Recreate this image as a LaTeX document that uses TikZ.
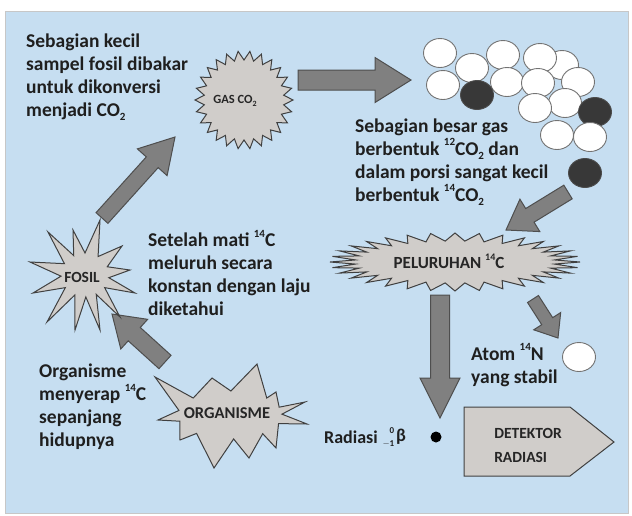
\documentclass[tikz,border=0pt]{standalone}
\usepackage{fontspec}
\setmainfont{Carlito}
\usetikzlibrary{calc,shapes.geometric}
\definecolor{bgblue}{RGB}{198,222,241}
\definecolor{burstfill}{RGB}{208,205,202}
\definecolor{arrfill}{RGB}{128,128,128}
\definecolor{arrline}{RGB}{78,78,78}
\newcommand\ssup[1]{\raisebox{0.5em}{\fontsize{11}{11}\selectfont #1}}
\newcommand\ssub[1]{\raisebox{-0.22em}{\fontsize{11}{11}\selectfont #1}}
\tikzset{
  burst/.style={fill=burstfill, draw=black!75, line width=1pt, line join=miter},
  barrow/.style={fill=arrfill, draw=arrline, line width=1pt, line join=miter},
  body/.style={font=\fontsize{19.5}{23}\selectfont\bfseries, align=left, inner sep=0pt, anchor=west, text=black!88},
  nuc/.style={font=\fontsize{9}{9}\selectfont\bfseries, inner sep=0pt, anchor=east, text=black!88},
  lbl/.style={inner sep=0pt, text=black!85},
  mol/.style={shape=ellipse, minimum width=33pt, minimum height=29pt, inner sep=0pt, fill=white, draw=black!55, line width=0.9pt},
  dmol/.style={mol, fill=black!78, draw=black!70}
}
\newcommand\blockarrow[5]{%
  \coordinate (bah) at ($(#2)!#5!(#1)$);
  \draw[barrow] ($(#1)!#3!90:(#2)$) -- ($(bah)!#3!-90:(#1)$) -- ($(bah)!#4!-90:(#1)$) -- (#2)
    -- ($(bah)!#4!90:(#1)$) -- ($(bah)!#3!90:(#1)$) -- ($(#1)!#3!-90:(#2)$) -- cycle;}
\begin{document}
\begin{tikzpicture}[x=1pt,y=-1pt]
\useasboundingbox (0,0) rectangle (632,515);
\fill[white] (0,0) rectangle (632,515);
\draw[draw=black!22, fill=bgblue, line width=0.8pt] (5,11) rectangle (628,513);

% arrow end points
\coordinate (a1s) at (298,80);  \coordinate (a1e) at (411,80);
\coordinate (a2s) at (102,218); \coordinate (a2e) at (175,137);
\coordinate (a3s) at (165,362); \coordinate (a3e) at (112,314);
\coordinate (a4s) at (568,192); \coordinate (a4e) at (506,230);
\coordinate (a5s) at (533,299); \coordinate (a5e) at (558,338);
\coordinate (a6s) at (440,295); \coordinate (a6e) at (440,418);

\blockarrow{a1s}{a1e}{10pt}{22.5pt}{36pt}
\blockarrow{a2s}{a2e}{8pt}{20pt}{34pt}
\blockarrow{a3s}{a3e}{9pt}{20pt}{30pt}
\blockarrow{a4s}{a4e}{8pt}{19pt}{28pt}
\blockarrow{a5s}{a5e}{6.5pt}{16pt}{20pt}
\blockarrow{a6s}{a6e}{9.5pt}{20pt}{40pt}

% GAS CO2 burst
\coordinate (gasc) at (244,100);
\draw[burst, shift={(gasc)}] (0:49 and 49) foreach \i in {0,...,25} { -- ({(\i+0.5)*360/26}:40 and 40) -- ({(\i+1)*360/26}:49 and 49)} -- cycle;
\node[lbl, font=\fontsize{12.5}{14}\selectfont\bfseries] (gas) at (235,101) {GAS CO\raisebox{-0.2em}{\fontsize{8}{8}\selectfont 2}};

% PELURUHAN burst
\coordinate (pelc) at (455,262);
\draw[burst, shift={(pelc)}] (0:125 and 29) foreach \i in {0,...,31} { -- ({(\i+0.5)*360/32}:100 and 21) -- ({(\i+1)*360/32}:125 and 29)} -- cycle;
\node[lbl, font=\fontsize{17}{19}\selectfont\bfseries] (pel) at (449,261) {PELURUHAN \raisebox{0.45em}{\fontsize{10}{10}\selectfont 14}C};

% FOSIL burst
\coordinate (fosc) at (85,275);
\draw[burst, shift={(fosc)}] (50,18) -- (35:24 and 22) -- (35,42) -- (62:24 and 22) -- (15,55) -- (88:24 and 22)
  -- (-10,55) -- (115:24 and 22) -- (-38,47) -- (145:24 and 22) -- (-52,18) -- (177:24 and 22)
  -- (-55,-13) -- (211:24 and 22) -- (-37,-43) -- (242:24 and 22) -- (-12,-45) -- (270:24 and 22)
  -- (15,-55) -- (303:24 and 22) -- (37,-29) -- (338:24 and 22) -- (45,-5) -- (7:24 and 22) -- cycle;
\node[lbl, font=\fontsize{15.5}{17}\selectfont\bfseries] (fosil) at (82,277) {FOSIL};

% ORGANISME burst
\coordinate (orgc) at (230,415);
\draw[burst, shift={(orgc)}] (77,9) -- (21:52 and 24) -- (46,33) -- (51:52 and 24) -- (19,43) -- (86:52 and 24)
  -- (-16,53) -- (130:52 and 24) -- (-50,25) -- (165:52 and 24) -- (-72,5) -- (191:52 and 24)
  -- (-75,-38) -- (225:52 and 24) -- (-18,-37) -- (271:52 and 24) -- (27,-51) -- (315:52 and 24)
  -- (46,-23) -- (341:52 and 24) -- (75,-13) -- (358:52 and 24) -- cycle;
\node[lbl, font=\fontsize{16.5}{18}\selectfont\bfseries] (org) at (227,413) {ORGANISME};

% detector
\draw[burst] (464,407) -- (570,407) -- (614,442) -- (570,476) -- (464,476) -- cycle;
\node[lbl, font=\fontsize{15.5}{24}\selectfont\bfseries, align=left] (det) at (528,445) {DETEKTOR\\RADIASI};

% gas molecules
\node[mol] (m5) at (562,65) {};
\node[mol] (m1) at (440,53) {};
\node[mol] (m3) at (503,55) {};
\node[mol] (m4) at (540,58) {};
\node[mol] (m2) at (472,68) {};
\node[mol] (m6) at (443,85) {};
\node[mol] (m8) at (507,82) {};
\node[mol] (m9) at (538,83) {};
\node[mol] (m10) at (578,82) {};
\node[dmol] (m7) at (477,95) {};
\node[mol] (m12) at (565,103) {};
\node[mol] (m11) at (535,108) {};
\node[dmol] (m13) at (595,112) {};
\node[mol] (m15) at (590,137) {};
\node[mol] (m14) at (557,135) {};
\node[dmol] (m16) at (585,173) {};

% nitrogen atom and beta particle
\node[mol] (n14) at (579,357) {};
\node[circle, fill=black, inner sep=0pt, minimum size=11pt] (beta) at (436,437) {};

% texts
\node[body] (t1) at (26,77) {Sebagian kecil\\sampel fosil dibakar\\untuk dikonversi\\menjadi CO\ssub{2}};
\node[body] (t2) at (355,162) {Sebagian besar gas\\berbentuk \ssup{12}CO\ssub{2} dan\\dalam porsi sangat kecil\\berbentuk \ssup{14}CO\ssub{2}};
\node[body] (t3) at (148,273) {Setelah mati \ssup{14}C\\meluruh secara\\konstan dengan laju\\diketahui};
\node[body] (t4) at (39,407) {Organisme\\menyerap \ssup{14}C\\sepanjang\\hidupnya};
\node[body] (t5) at (471,365) {Atom \ssup{14}N\\yang stabil};
\node[body, font=\fontsize{18}{22}\selectfont\bfseries] (t6) at (324,437) {Radiasi};
\node[body, font=\fontsize{18}{22}\selectfont\bfseries] (t6b) at (396,437) {β};
\node[nuc] (t6z) at (394.5,431) {0};
\node[nuc] (t6m) at (394.5,443.5) {$-$1};
\end{tikzpicture}
\end{document}
